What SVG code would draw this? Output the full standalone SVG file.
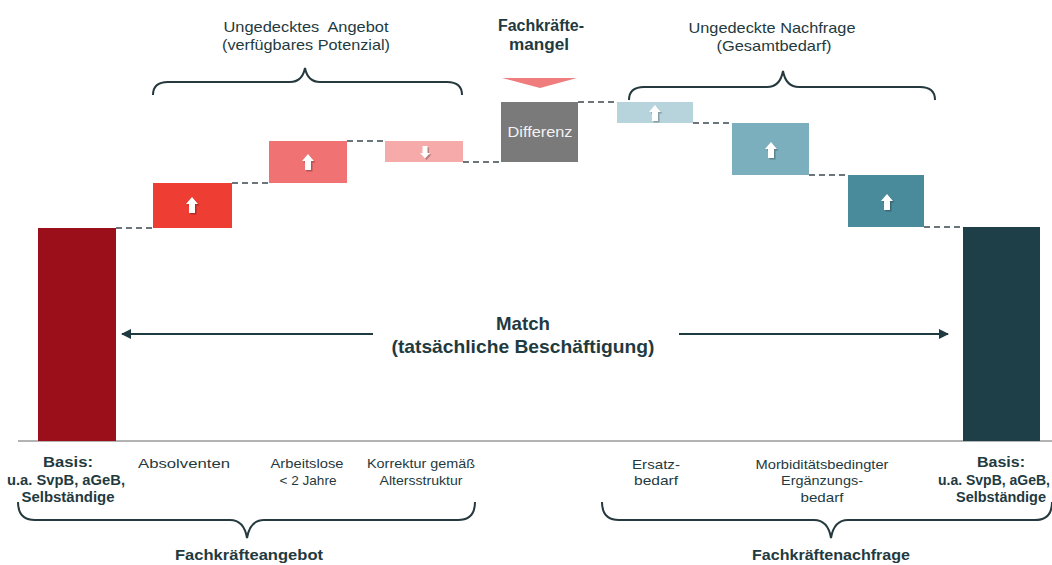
<svg xmlns="http://www.w3.org/2000/svg" width="1052" height="565" viewBox="0 0 1052 565">
  <style>
    text { font-family: "Liberation Sans", Arial, sans-serif; fill: #1f3a40; }
    .lbl { font-size: 13.5px; }
    .bold { font-weight: bold; }
    .top { font-size: 15px; }
    .dash { stroke: #6b757a; stroke-width: 2; stroke-dasharray: 6 4; fill: none; }
    .brace { stroke: #25393f; stroke-width: 2; fill: none; }
    .arrowline { stroke: #1f3a40; stroke-width: 2; fill: none; }
  </style>
  <defs>
    <g id="up">
      <polygon points="1.5,-6.5 7.5,0.5 4.5,0.5 4.5,9.5 -1.5,9.5 -1.5,0.5 -4.5,0.5" fill="#000" fill-opacity="0.25"/>
      <polygon points="0,-8 6,-1 3,-1 3,8 -3,8 -3,-1 -6,-1" fill="#ffffff"/>
    </g>
    <g id="down">
      <polygon points="1.5,8 6.5,2.5 4,2.5 4,-4.5 -1,-4.5 -1,2.5 -3.5,2.5" fill="#000" fill-opacity="0.25"/>
      <polygon points="0,6.5 5,1 2.5,1 2.5,-6 -2.5,-6 -2.5,1 -5,1" fill="#ffffff"/>
    </g>
    <marker id="ah" viewBox="0 0 10 10" refX="9" refY="5" markerWidth="5" markerHeight="5" orient="auto-start-reverse" markerUnits="strokeWidth">
      <path d="M0,0 L10,5 L0,10 Z" fill="#1f3a40"/>
    </marker>
  </defs>

  <!-- baseline -->
  <line x1="18" y1="441" x2="1052" y2="441" stroke="#9a9a9a" stroke-width="1.5"/>

  <g id="connectors">
    <line class="dash" x1="116" y1="228" x2="153" y2="228"/>
    <line class="dash" x1="232" y1="183" x2="269" y2="183"/>
    <line class="dash" x1="347" y1="141" x2="385" y2="141"/>
    <line class="dash" x1="463" y1="162" x2="501" y2="162"/>
    <line class="dash" x1="578" y1="102" x2="617" y2="102"/>
    <line class="dash" x1="693" y1="123" x2="732" y2="123"/>
    <line class="dash" x1="809" y1="175" x2="848" y2="175"/>
    <line class="dash" x1="924" y1="227" x2="963" y2="227"/>
    <line class="arrowline" x1="373" y1="334" x2="122" y2="334" marker-end="url(#ah)"/>
    <line class="arrowline" x1="679" y1="334" x2="948" y2="334" marker-end="url(#ah)"/>
  </g>

  <g id="basis-left">
    <rect x="38" y="228" width="78" height="213" fill="#9b0f1a"/>
  </g>
  <g id="absolventen">
    <rect x="153" y="183" width="79" height="45" fill="#ee3d33"/>
    <use href="#up" x="192" y="205"/>
  </g>
  <g id="arbeitslose">
    <rect x="269" y="141" width="78" height="42" fill="#f07272"/>
    <use href="#up" x="308" y="162"/>
  </g>
  <g id="korrektur">
    <rect x="385" y="141" width="78" height="21" fill="#f6aaaa"/>
    <use href="#down" x="425" y="152"/>
  </g>
  <g id="differenz">
    <polygon points="502,78 577,78 540,88" fill="#ef7d7d"/>
    <rect x="501" y="102" width="77" height="60" fill="#7a7a7a"/>
    <text x="540" y="137" text-anchor="middle" font-size="14.5" style="fill:#f2f2f2" textLength="65" lengthAdjust="spacingAndGlyphs">Differenz</text>
  </g>
  <g id="ersatzbedarf">
    <rect x="617" y="102" width="76" height="21" fill="#b7d4dd"/>
    <use href="#up" x="655" y="113"/>
  </g>
  <g id="ergaenzungsbedarf">
    <rect x="732" y="123" width="77" height="52" fill="#7bafbe"/>
    <use href="#up" x="771" y="150"/>
  </g>
  <g id="gesamt">
    <rect x="848" y="175" width="76" height="52" fill="#4a8b9b"/>
    <use href="#up" x="887" y="202"/>
  </g>
  <g id="basis-right">
    <rect x="963" y="227" width="77" height="214" fill="#1e3f48"/>
  </g>

  <g id="braces">
    <path class="brace" d="M153,95 C153,86 158,82 168,82 L290,82 C298,82 303,78 305,68 C307,78 312,82 320,82 L447,82 C457,82 462,86 462,95"/>
    <path class="brace" d="M629,100 C629,91 634,87 644,87 L767,87 C776,87 781,82 783,71 C785,82 790,87 799,87 L920,87 C930,87 935,91 935,100"/>
    <path class="brace" d="M18,502 C18,513 23,520 35,520 L230,520 C240,520 245,526 247,538 C249,526 254,520 264,520 L458,520 C470,520 475,513 475,502"/>
    <path class="brace" d="M602,502 C602,513 607,520 619,520 L814,520 C824,520 829,526 831,538 C833,526 838,520 848,520 L1035,520 C1047,520 1052,513 1052,502"/>
  </g>

  <g id="labels" lengthAdjust="spacingAndGlyphs">
    <text class="top" x="306" y="32" text-anchor="middle" textLength="165" lengthAdjust="spacingAndGlyphs" xml:space="preserve">Ungedecktes  Angebot</text>
    <text class="top" x="306" y="50" text-anchor="middle" textLength="168" lengthAdjust="spacingAndGlyphs">(verfügbares Potenzial)</text>
    <text class="bold" font-size="16" x="541" y="31" text-anchor="middle" textLength="86" lengthAdjust="spacingAndGlyphs">Fachkräfte-</text>
    <text class="bold" font-size="16" x="539" y="50" text-anchor="middle" textLength="60" lengthAdjust="spacingAndGlyphs">mangel</text>
    <text class="top" x="772" y="33" text-anchor="middle" textLength="167" lengthAdjust="spacingAndGlyphs">Ungedeckte Nachfrage</text>
    <text class="top" x="774" y="51" text-anchor="middle" textLength="115" lengthAdjust="spacingAndGlyphs">(Gesamtbedarf)</text>

    <text class="bold" font-size="18.5" x="523" y="330" text-anchor="middle" textLength="54" lengthAdjust="spacingAndGlyphs">Match</text>
    <text class="bold" font-size="18.5" x="523" y="353" text-anchor="middle" textLength="263" lengthAdjust="spacingAndGlyphs">(tatsächliche Beschäftigung)</text>

    <text class="bold" font-size="14" x="68" y="467" text-anchor="middle" textLength="50" lengthAdjust="spacingAndGlyphs">Basis:</text>
    <text class="bold" font-size="14" x="66" y="485" text-anchor="middle" textLength="118" lengthAdjust="spacingAndGlyphs">u.a. SvpB, aGeB,</text>
    <text class="bold" font-size="14" x="68" y="502" text-anchor="middle" textLength="93" lengthAdjust="spacingAndGlyphs">Selbständige</text>
    <text class="lbl" x="184" y="468" text-anchor="middle" textLength="92" lengthAdjust="spacingAndGlyphs">Absolventen</text>
    <text class="lbl" x="307" y="468" text-anchor="middle" textLength="73" lengthAdjust="spacingAndGlyphs">Arbeitslose</text>
    <text class="lbl" x="308" y="485" text-anchor="middle" textLength="57" lengthAdjust="spacingAndGlyphs">&lt; 2 Jahre</text>
    <text class="lbl" x="421" y="468" text-anchor="middle" textLength="108" lengthAdjust="spacingAndGlyphs">Korrektur gemäß</text>
    <text class="lbl" x="421" y="485" text-anchor="middle" textLength="83" lengthAdjust="spacingAndGlyphs">Altersstruktur</text>
    <text class="bold" font-size="15" x="249" y="560" text-anchor="middle" textLength="148" lengthAdjust="spacingAndGlyphs">Fachkräfteangebot</text>

    <text class="lbl" x="656" y="469" text-anchor="middle" textLength="48" lengthAdjust="spacingAndGlyphs">Ersatz-</text>
    <text class="lbl" x="656" y="485" text-anchor="middle" textLength="44" lengthAdjust="spacingAndGlyphs">bedarf</text>
    <text class="lbl" x="822" y="469" text-anchor="middle" textLength="133" lengthAdjust="spacingAndGlyphs">Morbiditätsbedingter</text>
    <text class="lbl" x="822" y="485" text-anchor="middle" textLength="82" lengthAdjust="spacingAndGlyphs">Ergänzungs-</text>
    <text class="lbl" x="822" y="502" text-anchor="middle" textLength="43" lengthAdjust="spacingAndGlyphs">bedarf</text>
    <text class="bold" font-size="14" x="1001" y="467" text-anchor="middle" textLength="48" lengthAdjust="spacingAndGlyphs">Basis:</text>
    <text class="bold" font-size="14" x="938" y="485" textLength="112" lengthAdjust="spacingAndGlyphs">u.a. SvpB, aGeB,</text>
    <text class="bold" font-size="14" x="1001" y="502" text-anchor="middle" textLength="90" lengthAdjust="spacingAndGlyphs">Selbständige</text>
    <text class="bold" font-size="15" x="831" y="560" text-anchor="middle" textLength="158" lengthAdjust="spacingAndGlyphs">Fachkräftenachfrage</text>
  </g>
</svg>
